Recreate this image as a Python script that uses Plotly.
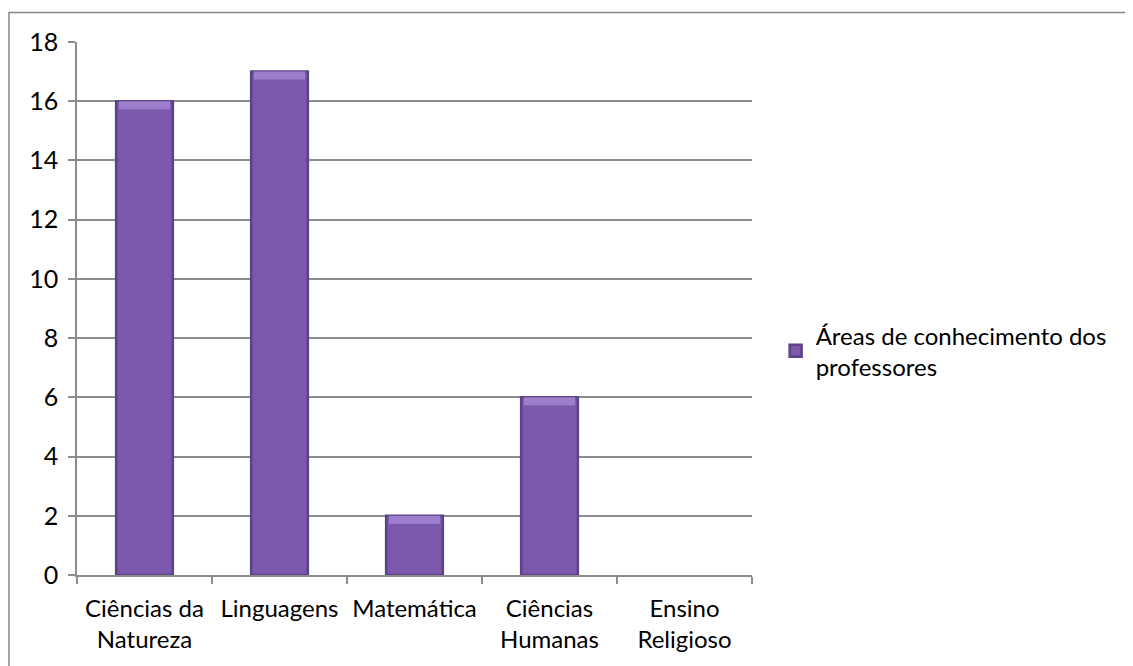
import plotly.graph_objects as go

categories = ["Ciências da Natureza", "Linguagens", "Matemática", "Ciências Humanas", "Ensino Religioso"]
tick_labels = ["Ciências da<br>Natureza", "Linguagens", "Matemática", "Ciências<br>Humanas", "Ensino<br>Religioso"]
values = [16, 17, 2, 6, 0]
series_name = "Áreas de conhecimento dos<br>professores"
y_ticks = [0, 2, 4, 6, 8, 10, 12, 14, 16, 18]

FONT = "Lato"
EDGE = "#5A4386"
BODY = "#7B58AC"
TOP = "#9C7ECC"
GRID = "#8C8C8C"
bevel = 0.27

# page body has an 8px default margin, so offsets below compensate for it
L, T, R, B = 69, 34, 744, 567
W, H = 1133, 666

fig = go.Figure()
fig.add_trace(go.Bar(
    x=categories, y=values, width=0.42, name=series_name,
    marker=dict(color=BODY, line=dict(color=EDGE, width=[2.5 if v > 0 else 0 for v in values])),
    showlegend=True,
))
top_vals = [bevel if v > bevel else None for v in values]
top_base = [v - bevel if v > bevel else None for v in values]
fig.add_trace(go.Bar(
    x=categories, y=top_vals, base=top_base, width=0.38,
    marker=dict(color=TOP, line=dict(width=0)),
    showlegend=False, hoverinfo="skip",
))

fig.update_layout(
    width=W, height=H,
    margin=dict(l=L, r=W - R, t=T, b=H - B, autoexpand=False),
    paper_bgcolor="white", plot_bgcolor="white",
    barmode="overlay",
    font=dict(family=FONT, size=24, color="black"),
    showlegend=True,
    legend=dict(x=1.035, y=0.42, xanchor="left", yanchor="middle",
                font=dict(family=FONT, size=24, color="black"),
                bgcolor="rgba(0,0,0,0)"),
)
fig.update_xaxes(
    type="category", categoryorder="array", categoryarray=categories,
    tickmode="array", tickvals=categories, ticktext=tick_labels,
    tickson="boundaries", ticks="outside", ticklen=7, tickcolor=GRID, tickwidth=1.5,
    showline=True, linecolor=GRID, linewidth=1.5, showgrid=False,
    range=[-0.5, 4.5], ticklabelstandoff=11, tickangle=0,
    tickfont=dict(family=FONT, size=24, color="black"),
)
fig.update_yaxes(
    range=[0, 18], tickmode="array", tickvals=y_ticks,
    ticks="outside", ticklen=7, tickcolor=GRID, tickwidth=1.5,
    showline=True, linecolor=GRID, linewidth=1.5,
    showgrid=True, gridcolor=GRID, gridwidth=1.5,
    zeroline=False, ticklabelstandoff=5,
    tickfont=dict(family=FONT, size=25, color="black"),
)
fig.add_shape(type="rect", xref="paper", yref="paper",
              x0=(1 - L) / (R - L), x1=1.7, y0=-0.4, y1=(B - 4.5) / (B - T),
              line=dict(color="#868686", width=1.5), fillcolor="rgba(0,0,0,0)", layer="below")

fig.write_html("out.html")
